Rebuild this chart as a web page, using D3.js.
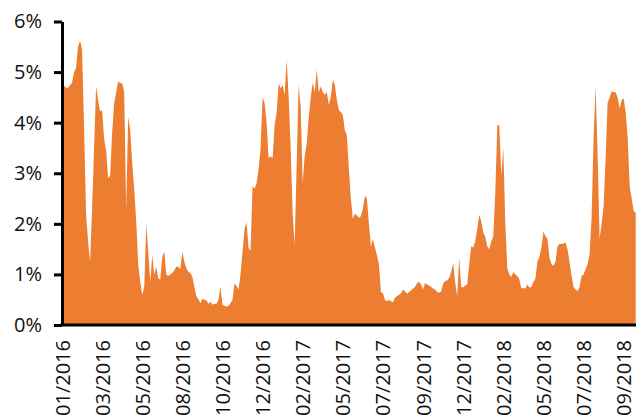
<!DOCTYPE html>
<html>
<head>
<meta charset="utf-8">
<script src="https://cdn.jsdelivr.net/npm/d3@7"></script>
<style>
  html, body { margin: 0; padding: 0; background: #fff; }
  svg { display: block; }
  .axis text { font-family: "Open Sans", sans-serif; font-size: 20px; fill: #111; }
  .axis path, .axis line { stroke: #000; stroke-width: 3; }
</style>
</head>
<body>
<div id="chart"></div>
<script>
const values = [
    4.85, 4.73, 4.69, 4.69, 4.74, 4.79, 5.0, 5.08, 5.5, 5.62,
    5.45, 3.9, 2.2, 1.65, 1.25, 2.3, 3.5, 4.72, 4.45, 4.22,
    4.25, 3.68, 3.45, 2.9, 2.95, 3.8, 4.38, 4.6, 4.82, 4.78,
    4.78, 4.6, 2.3, 4.12, 3.85, 3.2, 2.7, 2.05, 1.2, 0.85,
    0.6, 0.75, 2.0, 1.45, 0.85, 1.38, 1.0, 1.15, 0.92, 0.9,
    1.35, 1.45, 1.0, 0.97, 1.0, 1.03, 1.08, 1.15, 1.15, 1.1,
    1.45, 1.25, 1.12, 1.05, 1.03, 0.95, 0.75, 0.57, 0.51, 0.43,
    0.52, 0.5, 0.49, 0.42, 0.46, 0.4, 0.42, 0.42, 0.5, 0.75,
    0.4, 0.38, 0.36, 0.38, 0.43, 0.5, 0.82, 0.77, 0.7, 1.0,
    1.45, 1.9, 2.03, 1.52, 1.47, 2.75, 2.7, 2.8, 3.08, 3.5,
    4.5, 4.39, 4.0, 3.3, 3.33, 3.3, 3.95, 4.2, 4.78, 4.68,
    4.74, 4.55, 5.25, 4.5, 3.5, 2.2, 1.57, 3.2, 4.75, 4.3,
    2.8, 3.35, 3.58, 4.1, 4.5, 4.8, 4.6, 5.05, 4.6, 4.72,
    4.6, 4.55, 4.6, 4.36, 4.5, 4.85, 4.75, 4.45, 4.25, 4.21,
    4.15, 3.85, 3.75, 3.1, 2.5, 2.1, 2.2, 2.17, 2.12, 2.15,
    2.3, 2.55, 2.5, 2.0, 1.55, 1.7, 1.53, 1.38, 1.2, 0.65,
    0.63, 0.5, 0.47, 0.5, 0.47, 0.45, 0.54, 0.57, 0.6, 0.63,
    0.7, 0.66, 0.62, 0.65, 0.68, 0.72, 0.75, 0.83, 0.85, 0.8,
    0.7, 0.83, 0.8, 0.78, 0.75, 0.72, 0.7, 0.65, 0.64, 0.66,
    0.82, 0.87, 0.88, 0.93, 1.05, 1.22, 0.85, 0.57, 1.33, 0.75,
    0.74, 0.78, 0.8, 1.2, 1.55, 1.53, 1.65, 1.9, 2.18, 2.05,
    1.83, 1.75, 1.55, 1.5, 1.65, 1.75, 2.6, 3.95, 3.95, 2.95,
    3.5, 2.0, 1.12, 1.0, 0.95, 1.05, 1.0, 0.97, 0.9, 0.72,
    0.73, 0.72, 0.8, 0.74, 0.75, 0.85, 0.92, 1.25, 1.35, 1.53,
    1.85, 1.76, 1.7, 1.33, 1.2, 1.17, 1.25, 1.55, 1.6, 1.6,
    1.61, 1.63, 1.5, 1.25, 0.98, 0.75, 0.7, 0.67, 0.75, 0.97,
    1.0, 1.1, 1.2, 1.4, 2.1, 3.7, 4.72, 3.4, 1.7, 2.0,
    2.35, 3.3, 4.39, 4.5, 4.62, 4.6, 4.6, 4.5, 4.28, 4.45,
    4.48, 4.2, 3.7, 2.75, 2.5, 2.25, 2.22
];

// Category labels shown on the x axis (every labelStep-th observation)
const xLabels = [
    '01/2016', '03/2016', '05/2016', '08/2016', '10/2016',
    '12/2016', '02/2017', '05/2017', '07/2017', '09/2017',
    '12/2017', '02/2018', '05/2018', '07/2018', '09/2018'
];
const labelStep = 20;

const yTicks = [0, 1, 2, 3, 4, 5, 6];

// Dimensions
const W = 636, H = 418;
const plotLeft = 62, plotRight = 635.7, plotTop = 21.5, plotBottom = 325;

const svg = d3.select("#chart")
    .append("svg")
    .attr("width", W)
    .attr("height", H);

const x = d3.scaleLinear()
    .domain([0, values.length - 1])
    .range([plotLeft, plotRight]);

const y = d3.scaleLinear()
    .domain([0, 6])
    .range([plotBottom, plotTop]);

// Area
const area = d3.area()
    .x((d, i) => x(i))
    .y0(y(0))
    .y1(d => y(d));

svg.append("path")
    .datum(values)
    .attr("fill", "#ED7D31")
    .attr("d", area);

// Y axis
svg.append("g")
    .attr("class", "axis")
    .attr("transform", `translate(${plotLeft},0)`)
    .call(d3.axisLeft(y)
        .tickValues(yTicks)
        .tickFormat(d => d + "%")
        .tickSize(8)
        .tickSizeOuter(0)
        .tickPadding(12));

// X axis
const xAxis = svg.append("g")
    .attr("class", "axis")
    .attr("transform", `translate(0,${plotBottom})`)
    .call(d3.axisBottom(x)
        .tickValues(xLabels.map((_, i) => i * labelStep))
        .tickFormat(i => xLabels[i / labelStep])
        .tickSize(0)
        .tickSizeOuter(0));

xAxis.select(".domain").attr("d", `M${plotLeft - 1.5},0H${W}`);

xAxis.selectAll("text")
    .attr("transform", "rotate(-90)")
    .attr("text-anchor", "end")
    .attr("x", -15)
    .attr("y", 0)
    .attr("dy", "0.35em");
</script>
</body>
</html>
